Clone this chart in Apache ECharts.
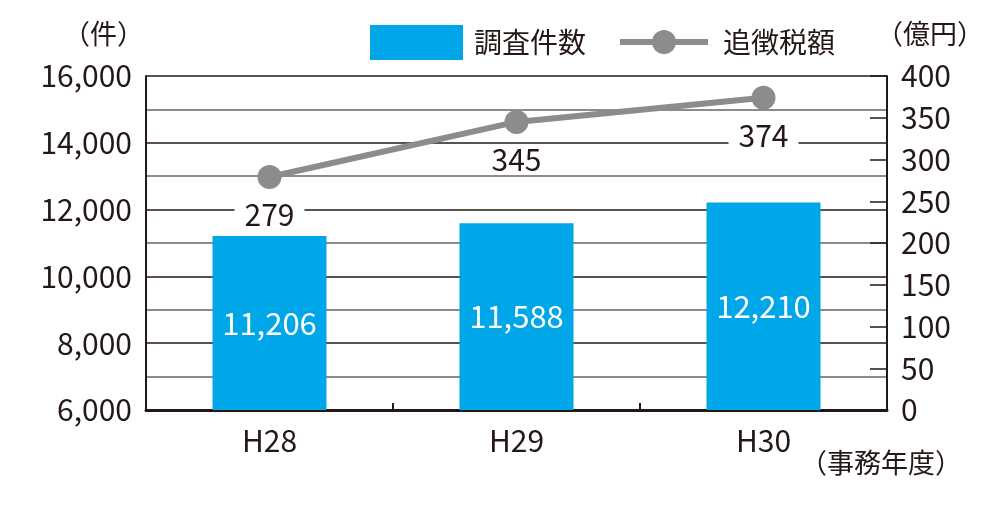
<!DOCTYPE html>
<html><head><meta charset="utf-8">
<script src="https://cdn.jsdelivr.net/npm/echarts@6/dist/echarts.min.js"></script>
<style>html,body{margin:0;padding:0;background:#fff}#c{width:1000px;height:510px}</style>
</head><body><div id="c"></div>
<script>
const categories = ['H28', 'H29', 'H30'];
const surveyCounts = [11206, 11588, 12210];
const taxAmounts = [279, 345, 374];
const seriesNames = ['調査件数', '追徴税額'];
const leftUnit = '（件）';
const rightUnit = '（億円）';
const xUnit = '（事務年度）';

const FONT = '"Noto Sans CJK JP", "Noto Sans", sans-serif';
const DARK = '#231815';
const chart = echarts.init(document.getElementById('c'));
chart.setOption({
  animation: false,
  textStyle: { fontFamily: FONT, color: DARK },
  grid: { left: 146, right: 113, top: 76, bottom: 100 },
  legend: [
    { data: [{ name: seriesNames[0], icon: 'rect' }], left: 365, top: 20, itemWidth: 93, itemHeight: 35,
      textStyle: { fontFamily: FONT, fontSize: 28, color: DARK, padding: [0, 0, 0, 6] } },
    { data: [seriesNames[1]], left: 612, top: 23, itemWidth: 88, itemHeight: 30,
      lineStyle: { width: 6, color: '#8c8c8c' },
      textStyle: { fontFamily: FONT, fontSize: 28, color: DARK, padding: [0, 0, 0, 10] } }
  ],
  xAxis: {
    type: 'category', data: categories,
    axisLine: { lineStyle: { color: DARK, width: 3 } },
    axisTick: { show: true, inside: true, length: 7, lineStyle: { color: DARK, width: 2 } },
    axisLabel: { fontFamily: FONT, fontSize: 30, color: DARK, margin: 16 }
  },
  yAxis: [
    { type: 'value', min: 6000, max: 16000, interval: 2000,
      axisLine: { show: true, lineStyle: { color: DARK, width: 2 } },
      axisTick: { show: false },
      axisLabel: { fontFamily: FONT, fontSize: 30, color: DARK, margin: 14,
        formatter: v => v.toLocaleString('en-US') },
      splitLine: { show: true, lineStyle: { color: DARK, width: 1.5 } },
      minorTick: { show: false, splitNumber: 2 },
      minorSplitLine: { show: true, lineStyle: { color: '#8c8c8c', width: 2 } }
    },
    { type: 'value', min: 0, max: 400, interval: 50, position: 'right',
      axisLine: { show: true, lineStyle: { color: DARK, width: 2 } },
      axisTick: { show: true, inside: true, length: 17, lineStyle: { color: DARK, width: 1.5 } },
      axisLabel: { fontFamily: FONT, fontSize: 30, color: DARK, margin: 14 },
      splitLine: { show: false }
    }
  ],
  graphic: [
    { type: 'text', left: 63, top: 20, style: { text: leftUnit, font: '27px ' + FONT, fill: DARK } },
    { type: 'text', left: 876, top: 20, style: { text: rightUnit, font: '27px ' + FONT, fill: DARK } },
    { type: 'text', left: 800, top: 449, style: { text: xUnit, font: '27px ' + FONT, fill: DARK } }
  ],
  series: [
    { name: seriesNames[0], type: 'bar', data: surveyCounts, barWidth: 114,
      itemStyle: { color: '#00a7e8' },
      label: { show: true, position: 'inside', fontFamily: FONT, fontSize: 31, color: '#fff',
        formatter: p => p.value.toLocaleString('en-US') } },
    { name: seriesNames[1], type: 'line', yAxisIndex: 1, data: taxAmounts,
      symbol: 'circle', symbolSize: 24,
      lineStyle: { color: '#8c8c8c', width: 6 }, itemStyle: { color: '#8c8c8c' },
      label: { show: true, position: 'bottom', distance: 11, fontFamily: FONT, fontSize: 30,
        color: DARK, backgroundColor: '#fff', padding: [0, 10] } }
  ]
});
</script></body></html>
